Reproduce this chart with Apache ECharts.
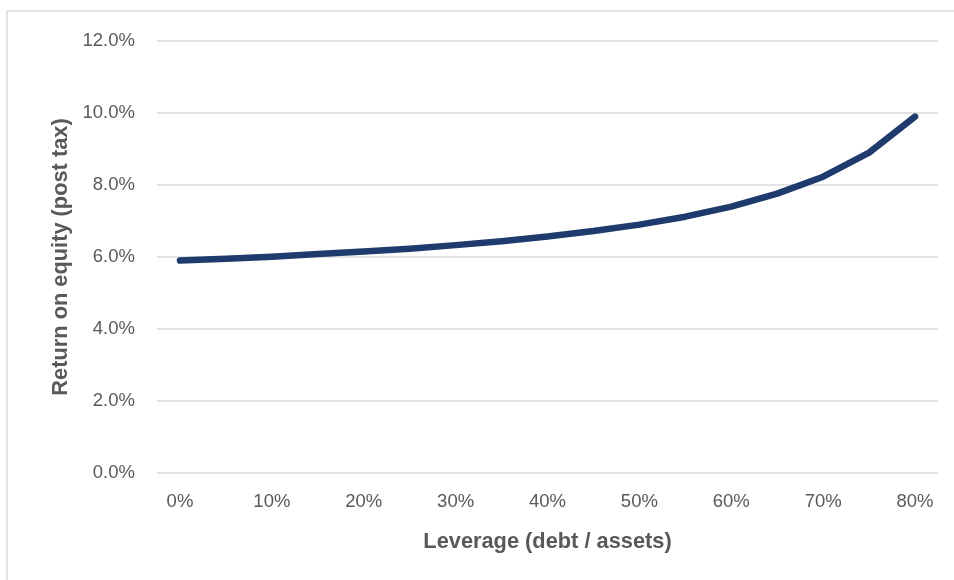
<!DOCTYPE html>
<html>
<head>
<meta charset="utf-8">
<script src="https://cdn.jsdelivr.net/npm/echarts@6/dist/echarts.min.js"></script>
<style>
  html, body { margin: 0; padding: 0; background: #fff; }
  #chart { width: 954px; height: 580px; }
</style>
</head>
<body>
<div id="chart"></div>
<script>
// leverage (debt / assets), one point every 5%
const leverage = ['0%', '5%', '10%', '15%', '20%', '25%', '30%', '35%', '40%',
  '45%', '50%', '55%', '60%', '65%', '70%', '75%', '80%']
// return on equity (post tax), in percent
const roe = [5.90, 5.95, 6.01, 6.08, 6.15, 6.23, 6.33, 6.44, 6.57,
  6.72, 6.90, 7.12, 7.40, 7.76, 8.23, 8.90, 9.90]
const yTicks = [0, 2, 4, 6, 8, 10, 12]

const font = '"Liberation Sans", Arial, sans-serif'
const grey = '#595959'

const chart = echarts.init(document.getElementById('chart'))
chart.setOption({
  animation: false,
  textStyle: { fontFamily: font },
  graphic: [{
    type: 'rect',
    shape: { x: 7, y: 11, width: 1000, height: 640 },
    style: { fill: 'none', stroke: '#d9d9d9', lineWidth: 1.5 },
    silent: true
  }],
  grid: {
    left: 157,
    right: 16,
    top: 41,
    bottom: 107
  },
  xAxis: {
    type: 'category',
    data: leverage,
    boundaryGap: true,
    axisLine: { show: false },
    axisTick: { show: false },
    axisLabel: {
      interval: 1,
      color: grey,
      fontSize: 18.5,
      fontFamily: font,
      margin: 19
    },
    name: 'Leverage (debt / assets)',
    nameLocation: 'middle',
    nameGap: 58,
    nameTextStyle: {
      color: grey,
      fontSize: 21.8,
      fontWeight: 'bold',
      fontFamily: font
    }
  },
  yAxis: {
    type: 'value',
    min: yTicks[0],
    max: yTicks[yTicks.length - 1],
    interval: 2,
    axisLine: { show: false },
    axisTick: { show: false },
    splitLine: { lineStyle: { color: '#d9d9d9', width: 1.5 } },
    axisLabel: {
      color: grey,
      fontSize: 18.5,
      fontFamily: font,
      margin: 22,
      formatter: v => v.toFixed(1) + '%'
    },
    name: 'Return on equity (post tax)',
    nameLocation: 'middle',
    nameGap: 84,
    nameTextStyle: {
      color: grey,
      fontSize: 21.8,
      fontWeight: 'bold',
      fontFamily: font
    }
  },
  series: [{
    type: 'line',
    data: roe,
    showSymbol: false,
    symbol: 'none',
    lineStyle: { color: '#1f3a6d', width: 6.5, cap: 'round', join: 'round' }
  }]
})
</script>
</body>
</html>
